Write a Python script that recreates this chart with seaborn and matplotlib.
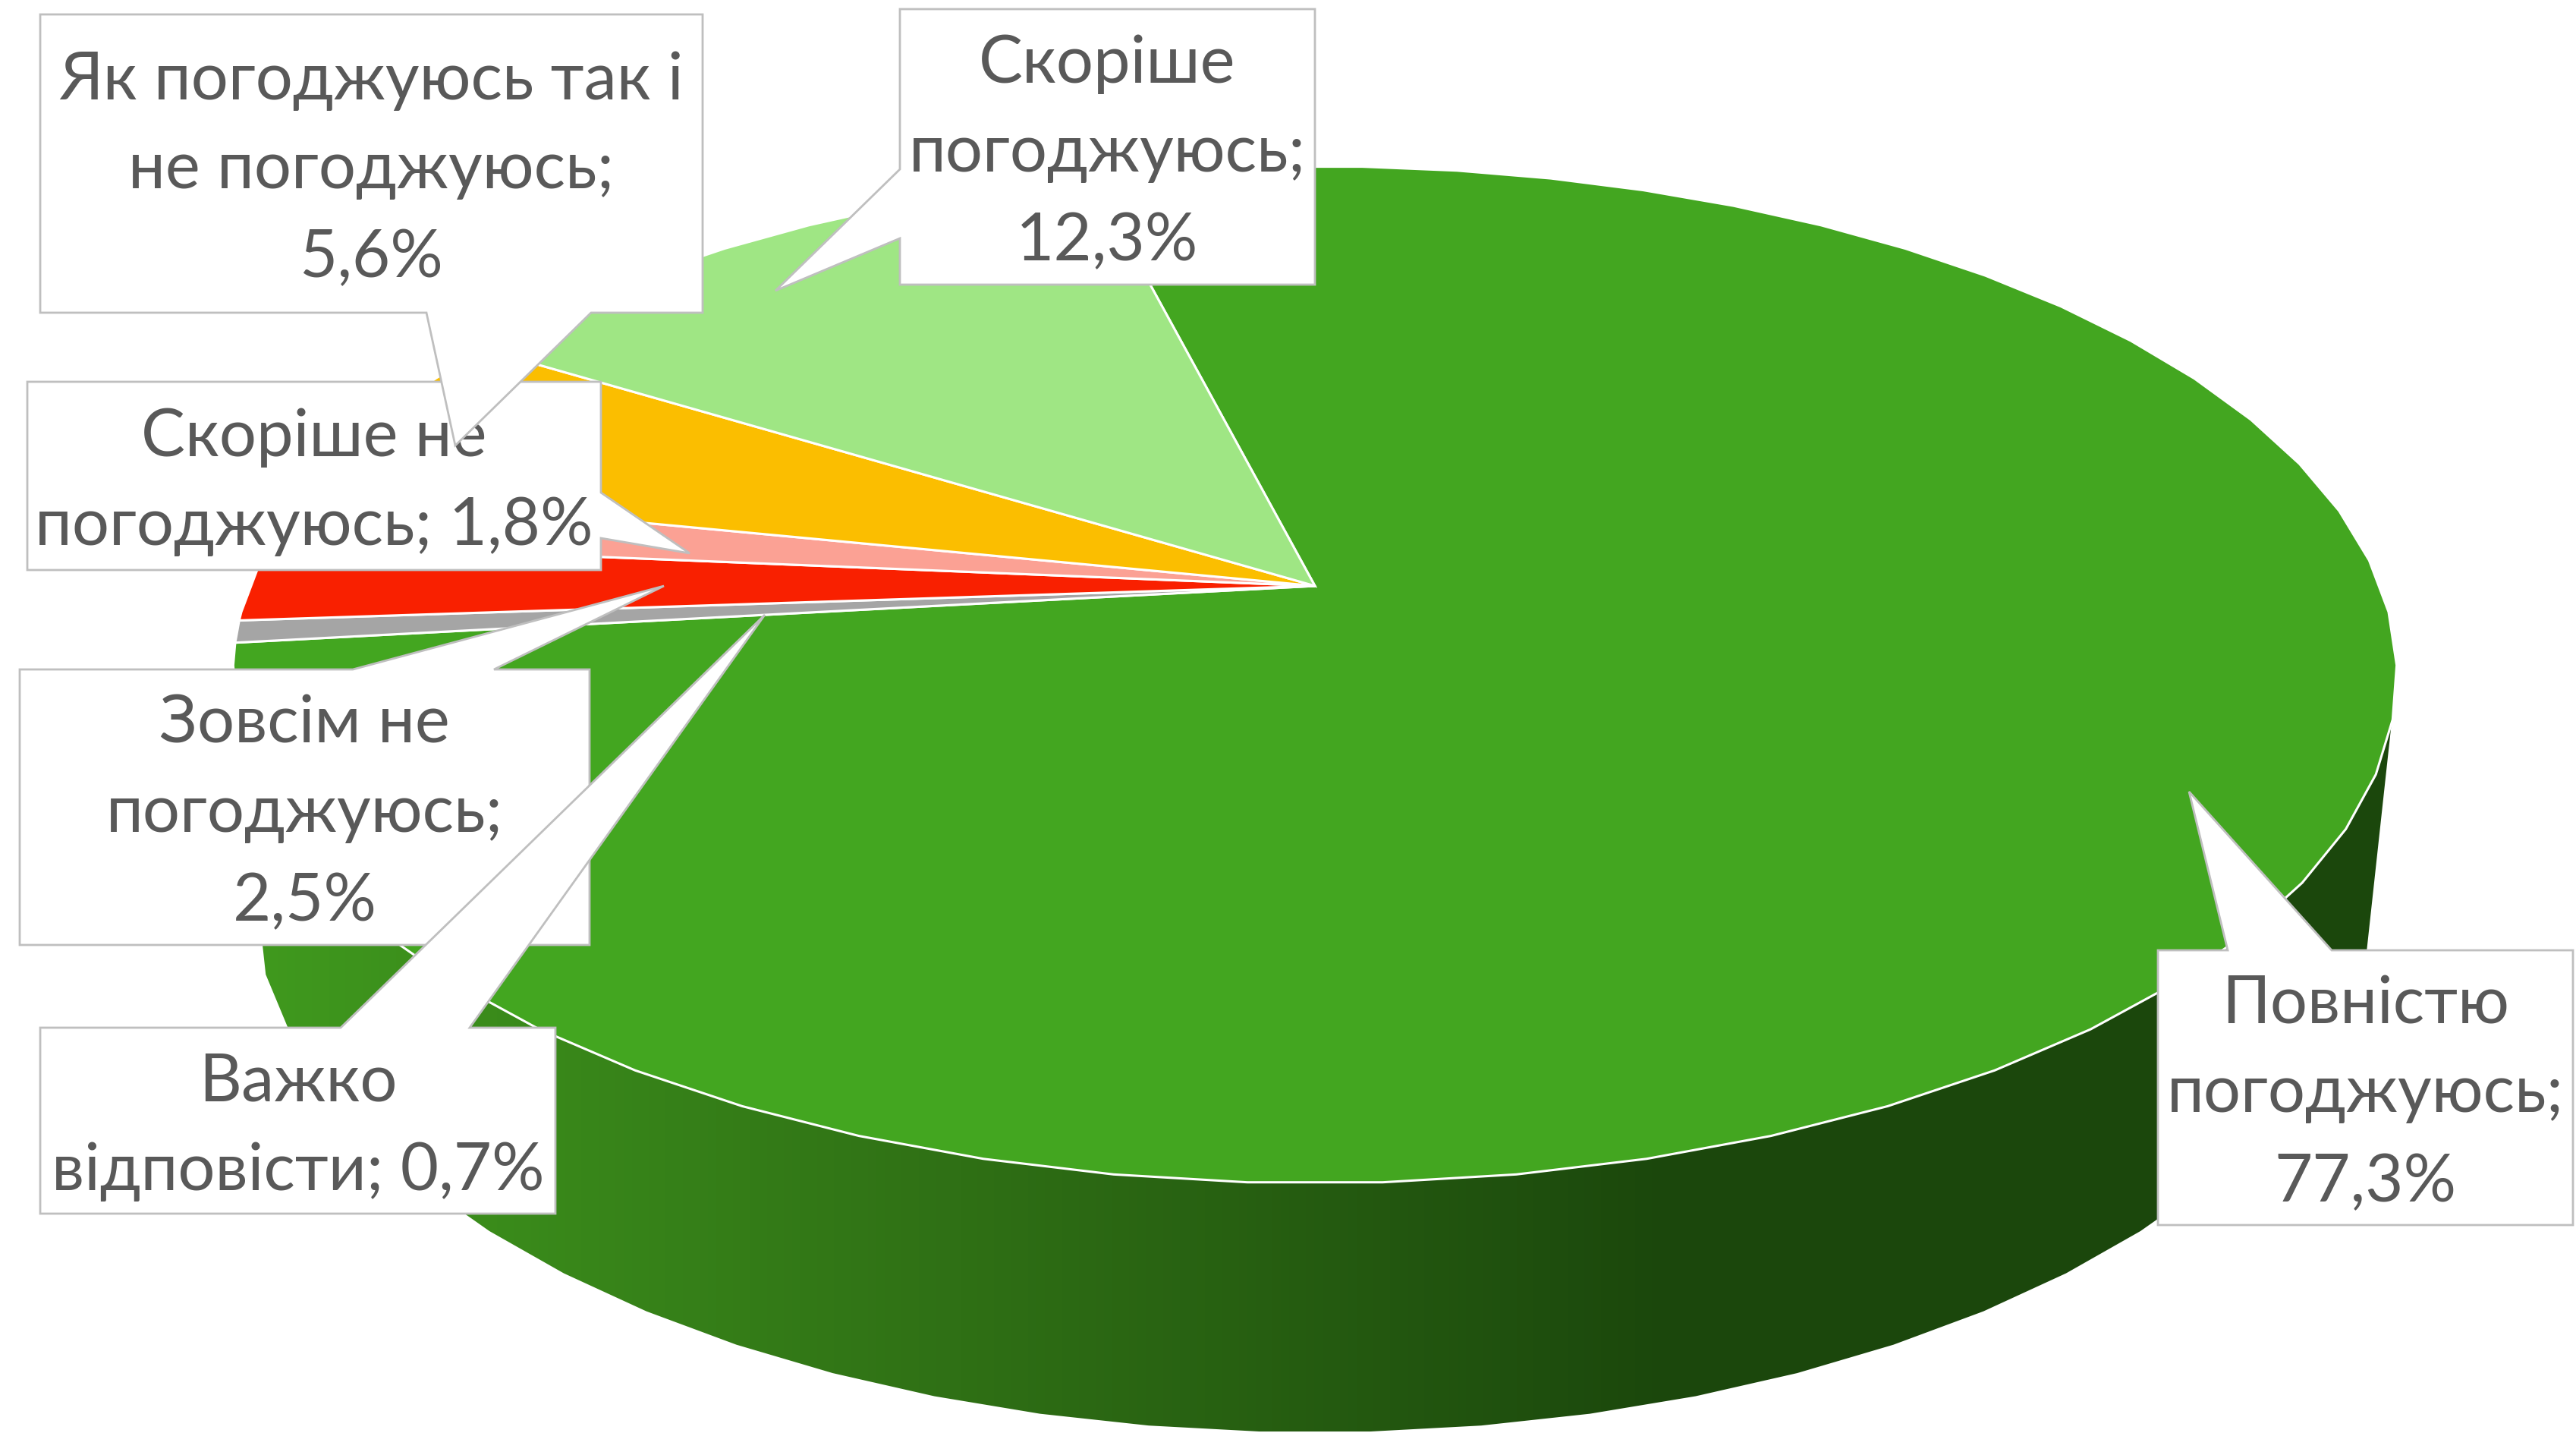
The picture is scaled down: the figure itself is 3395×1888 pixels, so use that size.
import numpy as np
import matplotlib
matplotlib.use('Agg')
import matplotlib.pyplot as plt
import seaborn as sns

# Chart data, clockwise from the first slice
categories = ['Повністю погоджуюсь', 'Важко відповісти', 'Зовсім не погоджуюсь',
              'Скоріше не погоджуюсь', 'Як погоджуюсь так і не погоджуюсь', 'Скоріше погоджуюсь']
values = [77.3, 0.7, 2.5, 1.8, 5.6, 12.3]
slice_colors = ['#43A620', '#A5A5A5', '#F92000', '#FBA194', '#FBBE00', '#9FE684']

# Same categories with the line breaks the labels use
label_lines = ['Повністю\nпогоджуюсь;\n{}%', 'Важко\nвідповісти; {}%', 'Зовсім не\nпогоджуюсь;\n{}%',
               'Скоріше не\nпогоджуюсь; {}%', 'Як погоджуюсь так і\nне погоджуюсь;\n{}%', 'Скоріше\nпогоджуюсь;\n{}%']

# Callout boxes in pixels: x0, y0, x1, y1
boxes = [(2844, 1252, 3391, 1614), (53, 1354, 732, 1599), (26, 882, 777, 1245),
         (36, 503, 792, 751), (53, 19, 926, 412), (1186, 12, 1733, 375)]
# Callout pointers: first base point, tip, second base point
tails = [((2936, 1252), (2885, 1043), (3073, 1252)),
         ((449, 1354), (1008, 810), (619, 1354)),
         ((465, 882), (875, 772), (651, 882)),
         ((792, 649), (909, 729), (792, 709)),
         ((562, 412), (600, 587), (779, 412)),
         ((1186, 223), (1022, 383), (1186, 314))]
draw_order = [0, 5, 3, 4, 2, 1]

# Pie geometry (perspective view of the top face)
center_x, center_y = 1733, 772
radius_x, radius_y, tilt = 1404, 649.6, -0.1746
start_angle = -14.2
base_y, base_rx, base_ry = 1172, 1400, 715
facet = 6  # the rim in the original is made of short straight pieces


def project(angle_deg):
    t = np.radians(angle_deg)
    u, v = np.sin(t), -np.cos(t)
    scale = 1 + tilt * v
    return center_x + radius_x * u / scale, center_y + radius_y * v / scale


def rim_angles(a0, a1):
    # facet corners inside the slice, plus the slice ends
    grid = 3 + facet * np.arange(-20, 80)
    grid = grid[(grid > a0) & (grid < a1)]
    return np.r_[a0, grid, a1]


def main():
    sns.set_theme(style='white')
    plt.rcParams['font.family'] = ['Lato', 'Open Sans']

    fig = plt.figure(figsize=(33.95, 18.88), dpi=100)
    ax = fig.add_axes([0, 0, 1, 1])
    ax.set_xlim(0, 3395)
    ax.set_ylim(1888, 0)
    ax.axis('off')

    # Side of the pie, gradient clipped to the outline
    top_x, top_y = project(rim_angles(100, 260))
    t = np.radians(np.arange(9, 172, facet))
    low_x = center_x + base_rx * np.cos(t)
    low_y = base_y + base_ry * np.sin(t)
    side_x = np.concatenate([low_x, top_x[::-1]])
    side_y = np.concatenate([low_y, top_y[::-1]])
    side = ax.fill(side_x, side_y, color='none', zorder=1)[0]
    side_cmap = sns.blend_palette(['#409A1E', '#2F7015', '#1B470C', '#1B470C'], as_cmap=True)
    gradient = np.linspace(0, 1, 512).reshape(1, -1)
    img = ax.imshow(gradient, extent=(311, 3154, 1888, 800), cmap=side_cmap, aspect='auto', zorder=1)
    img.set_clip_path(side)
    ax.set_xlim(0, 3395)
    ax.set_ylim(1888, 0)

    # Slices of the top face
    edges = start_angle + np.concatenate([[0], np.cumsum(values)]) / sum(values) * 360
    for i, color in enumerate(slice_colors):
        rim_x, rim_y = project(rim_angles(edges[i], edges[i + 1]))
        ax.fill(np.r_[center_x, rim_x], np.r_[center_y, rim_y], facecolor=color,
                edgecolor='white', linewidth=2.2, joinstyle='miter', zorder=2)

    # Labels with their pointers
    for z, i in enumerate(draw_order):
        x0, y0, x1, y1 = boxes[i]
        a, tip, b = tails[i]
        if a[1] == y0:  # pointer on the top edge
            pts = [(x0, y0), a, tip, b, (x1, y0), (x1, y1), (x0, y1)]
        elif a[0] == x1:  # right edge
            pts = [(x0, y0), (x1, y0), a, tip, b, (x1, y1), (x0, y1)]
        elif a[1] == y1:  # bottom edge
            pts = [(x0, y0), (x1, y0), (x1, y1), b, tip, a, (x0, y1)]
        else:  # left edge
            pts = [(x0, y0), (x1, y0), (x1, y1), (x0, y1), b, tip, a]
        ax.fill(*zip(*pts), facecolor='white', edgecolor='#BFBFBF', linewidth=2,
                joinstyle='miter', zorder=3 + z)
        label = label_lines[i].format(f'{values[i]:.1f}'.replace('.', ','))
        ax.text((x0 + x1) / 2, (y0 + y1) / 2 + 8, label, ha='center', va='center', fontsize=62.5,
                color='#595959', linespacing=1.6, zorder=3 + z)

    fig.savefig('out.png', dpi=100, facecolor='white')


if __name__ == "__main__":
    main()
